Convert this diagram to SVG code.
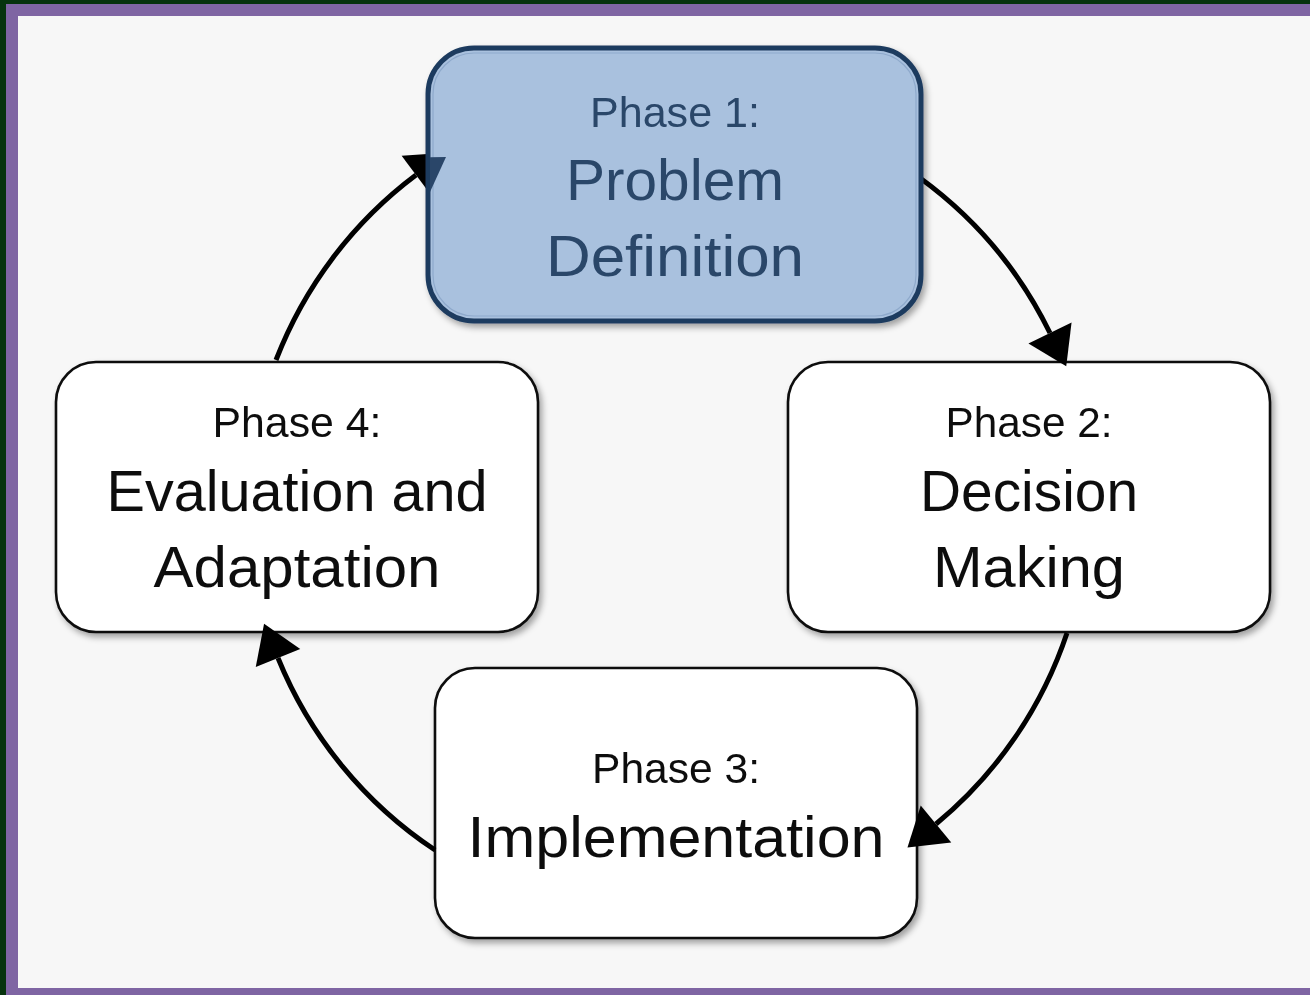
<svg xmlns="http://www.w3.org/2000/svg" width="1310" height="995" viewBox="0 0 1310 995">
<style>
.box{fill:#ffffff;stroke:#111111;stroke-width:2.6}
.t{font-family:"Liberation Sans",Arial,sans-serif;text-anchor:middle;fill:#111111}
.s{font-size:42px}
.b{font-size:57px}
.p1 .t{fill:#2a4669}
.con{fill:none;stroke:#000000;stroke-width:5}
</style>
<defs>
<filter id="sh" x="-10%" y="-10%" width="120%" height="125%">
<feDropShadow dx="3" dy="4" stdDeviation="3" flood-color="#000000" flood-opacity="0.35"/>
</filter>
<marker id="ah" markerUnits="userSpaceOnUse" markerWidth="80" markerHeight="80" refX="0" refY="0" viewBox="-5 -40 80 80" orient="auto" overflow="visible">
<path d="M0,-24 L37,0 L0,24 Z" fill="#000000"/>
</marker>
<clipPath id="c1"><rect x="430" y="50" width="489" height="269" rx="44"/></clipPath>
</defs>
<rect x="0" y="0" width="1310" height="995" fill="#f7f7f7"/>
<g id="frame">
<rect x="0" y="0" width="1310" height="4" fill="#06330d"/>
<rect x="0" y="0" width="6" height="995" fill="#06330d"/>
<rect x="6" y="4" width="1304" height="12" fill="#7f65a3"/>
<rect x="6" y="4" width="12" height="991" fill="#7f65a3"/>
<rect x="6" y="988" width="1304" height="7" fill="#7f65a3"/>
</g>
<g id="phase2" filter="url(#sh)">
<rect class="box" x="788" y="362" width="482" height="270" rx="40"/>
<text class="t s" x="1029" y="437" textLength="167" lengthAdjust="spacingAndGlyphs">Phase 2:</text>
<text class="t b" x="1029" y="511" textLength="218" lengthAdjust="spacingAndGlyphs">Decision</text>
<text class="t b" x="1029" y="587" textLength="192" lengthAdjust="spacingAndGlyphs">Making</text>
</g>
<g id="phase3" filter="url(#sh)">
<rect class="box" x="435" y="668" width="482" height="270" rx="40"/>
<text class="t s" x="676" y="783" textLength="168" lengthAdjust="spacingAndGlyphs">Phase 3:</text>
<text class="t b" x="676" y="857" textLength="417" lengthAdjust="spacingAndGlyphs">Implementation</text>
</g>
<g id="phase4" filter="url(#sh)">
<rect class="box" x="56" y="362" width="482" height="270" rx="40"/>
<text class="t s" x="297" y="437" textLength="169" lengthAdjust="spacingAndGlyphs">Phase 4:</text>
<text class="t b" x="297" y="511" textLength="381" lengthAdjust="spacingAndGlyphs">Evaluation and</text>
<text class="t b" x="297" y="587" textLength="287" lengthAdjust="spacingAndGlyphs">Adaptation</text>
</g>
<g id="connectors">
<path class="con" d="M276,360 A420,420 0 0 1 416,175" marker-end="url(#ah)"/>
<path class="con" d="M920,178 A420,420 0 0 1 1050,333" marker-end="url(#ah)"/>
<path class="con" d="M1067,633 A420,420 0 0 1 936,824" marker-end="url(#ah)"/>
<path class="con" d="M435,850 A420,420 0 0 1 278,658" marker-end="url(#ah)"/>
</g>
<g id="phase1" class="p1" filter="url(#sh)">
<rect x="428" y="48" width="493" height="273" rx="46" fill="#a9c1de" stroke="#1f3b5e" stroke-width="5"/>
<rect x="433" y="53" width="483" height="263" rx="41" fill="none" stroke="#8ea9cb" stroke-width="1.2"/>
<text class="t s" x="675" y="127" textLength="170" lengthAdjust="spacingAndGlyphs">Phase 1:</text>
<text class="t b" x="675" y="200" textLength="218" lengthAdjust="spacingAndGlyphs">Problem</text>
<text class="t b" x="675" y="276" textLength="258" lengthAdjust="spacingAndGlyphs">Definition</text>
</g>
<g id="connector-overlay" clip-path="url(#c1)">
<path d="M402,158 L446,157 L430,192 Z" fill="#2a4669"/>
</g>
</svg>
